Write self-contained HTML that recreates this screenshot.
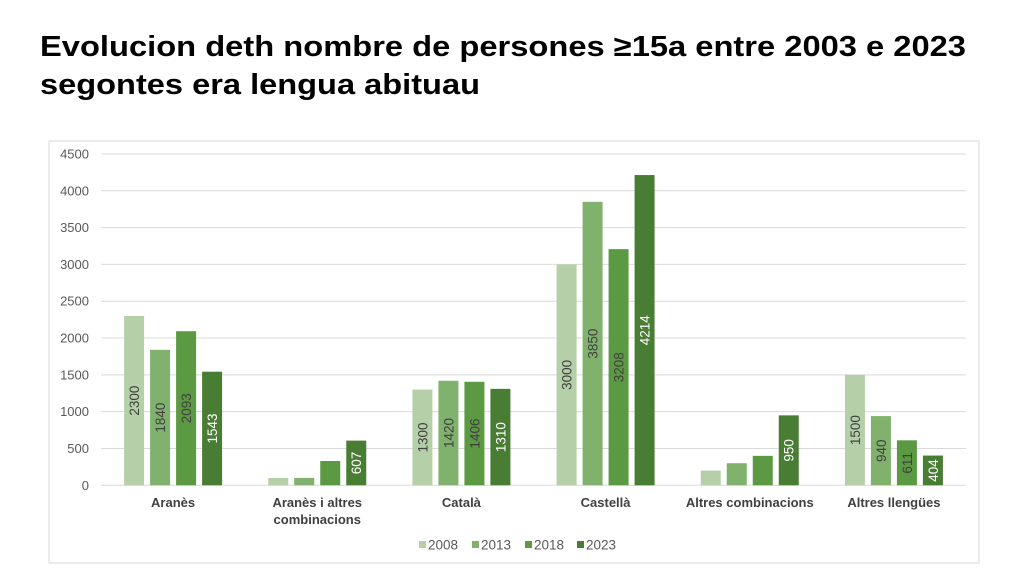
<!DOCTYPE html>
<html><head><meta charset="utf-8"><style>
body{margin:0;background:#fff;width:1024px;height:574px;overflow:hidden;font-family:"Liberation Sans",sans-serif;}
</style></head><body>
<svg id="chart" width="1024" height="574" xmlns="http://www.w3.org/2000/svg" font-family="Liberation Sans, sans-serif">
<text x="40" y="56" font-size="29" font-weight="bold" fill="#000" textLength="926" lengthAdjust="spacingAndGlyphs">Evolucion deth nombre de persones ≥15a entre 2003 e 2023</text>
<text x="40" y="94" font-size="29" font-weight="bold" fill="#000" textLength="440" lengthAdjust="spacingAndGlyphs">segontes era lengua abituau</text>
<rect x="49" y="141" width="930" height="422" fill="none" stroke="#d9d9d9" stroke-width="1"/>
<g id="grid"></g><g id="bars"></g><g id="labels"></g><g id="legend"></g>
</svg>
<script>
const categories = [["Aranès"],["Aranès i altres","combinacions"],["Català"],["Castellà"],["Altres combinacions"],["Altres llengües"]];
const series = ["2008","2013","2018","2023"];
const v2008 = [2300,100,1300,3000,200,1500];
const v2013 = [1840,100,1420,3850,300,940];
const v2018 = [2093,330,1406,3208,400,611];
const v2023 = [1543,607,1310,4214,950,404];
const showLabels = [[true,false,true,true,false,true],[true,false,true,true,false,true],[true,false,true,true,false,true],[true,true,true,true,true,true]];
const ticks = [0,500,1000,1500,2000,2500,3000,3500,4000,4500];

const NS="http://www.w3.org/2000/svg";
const colors=["#b5d0a8","#80b16d","#5b9a43","#4a7d34"];
const labelColors=["#404040","#404040","#404040","#ffffff"];
const x0=101,x1=966,y0=485.3,yTop=154,maxV=4500;
const y=v=>y0-(v/maxV)*(y0-yTop);
const bw=(x1-x0)/categories.length;
const barW=20,pitch=26;
function mk(tag,attrs,parent){const e=document.createElementNS(NS,tag);for(const k in attrs)e.setAttribute(k,attrs[k]);parent.appendChild(e);return e;}
const grid=document.getElementById('grid'),bars=document.getElementById('bars'),labels=document.getElementById('labels'),legend=document.getElementById('legend');
ticks.forEach(t=>{
  const l=mk('line',{x1:x0,x2:x1,y1:y(t),y2:y(t),stroke:'#d9d9d9','stroke-width':1},grid);
  
  
  const tx=mk('text',{x:89,y:y(t)+4.5,'font-size':13,'text-anchor':'end',fill:'#595959'},grid);
  tx.textContent=t;
  
  
});
const all=[v2008,v2013,v2018,v2023];
categories.forEach((c,i)=>{
  const cx=x0+bw*(i+0.5);
  all.forEach((arr,s)=>{
    const bx=cx-(pitch*1.5)-barW/2+s*pitch;
    const r=mk('rect',{x:bx,y:y(arr[i]),width:barW,height:y0-y(arr[i]),fill:colors[s]},bars);
    
    
    if(showLabels[s][i]){
      const ly=(y(arr[i])+y0)/2, lx=bx+barW/2+5;
      const t=mk('text',{x:lx,y:ly,'font-size':13.5,'text-anchor':'middle',fill:labelColors[s],transform:`rotate(-90 ${lx} ${ly})`},labels);
      t.textContent=arr[i];
      
      
    }
  });
  c.forEach((line,k)=>{
    const t=mk('text',{x:cx,y:507+k*17,'font-size':13,'font-weight':'bold','text-anchor':'middle',fill:'#404040'},labels);
    t.textContent=line;
    
    
  });
});
const lx=[419,472,525,577];
series.forEach((s,i)=>{
  const r=mk('rect',{x:lx[i],y:541,width:7,height:7,fill:colors[i]},legend);
  
  
  const t=mk('text',{x:lx[i]+9,y:549.5,'font-size':13.5,fill:'#595959'},legend);
  t.textContent=s;
  
  
});
</script>
</body></html>
